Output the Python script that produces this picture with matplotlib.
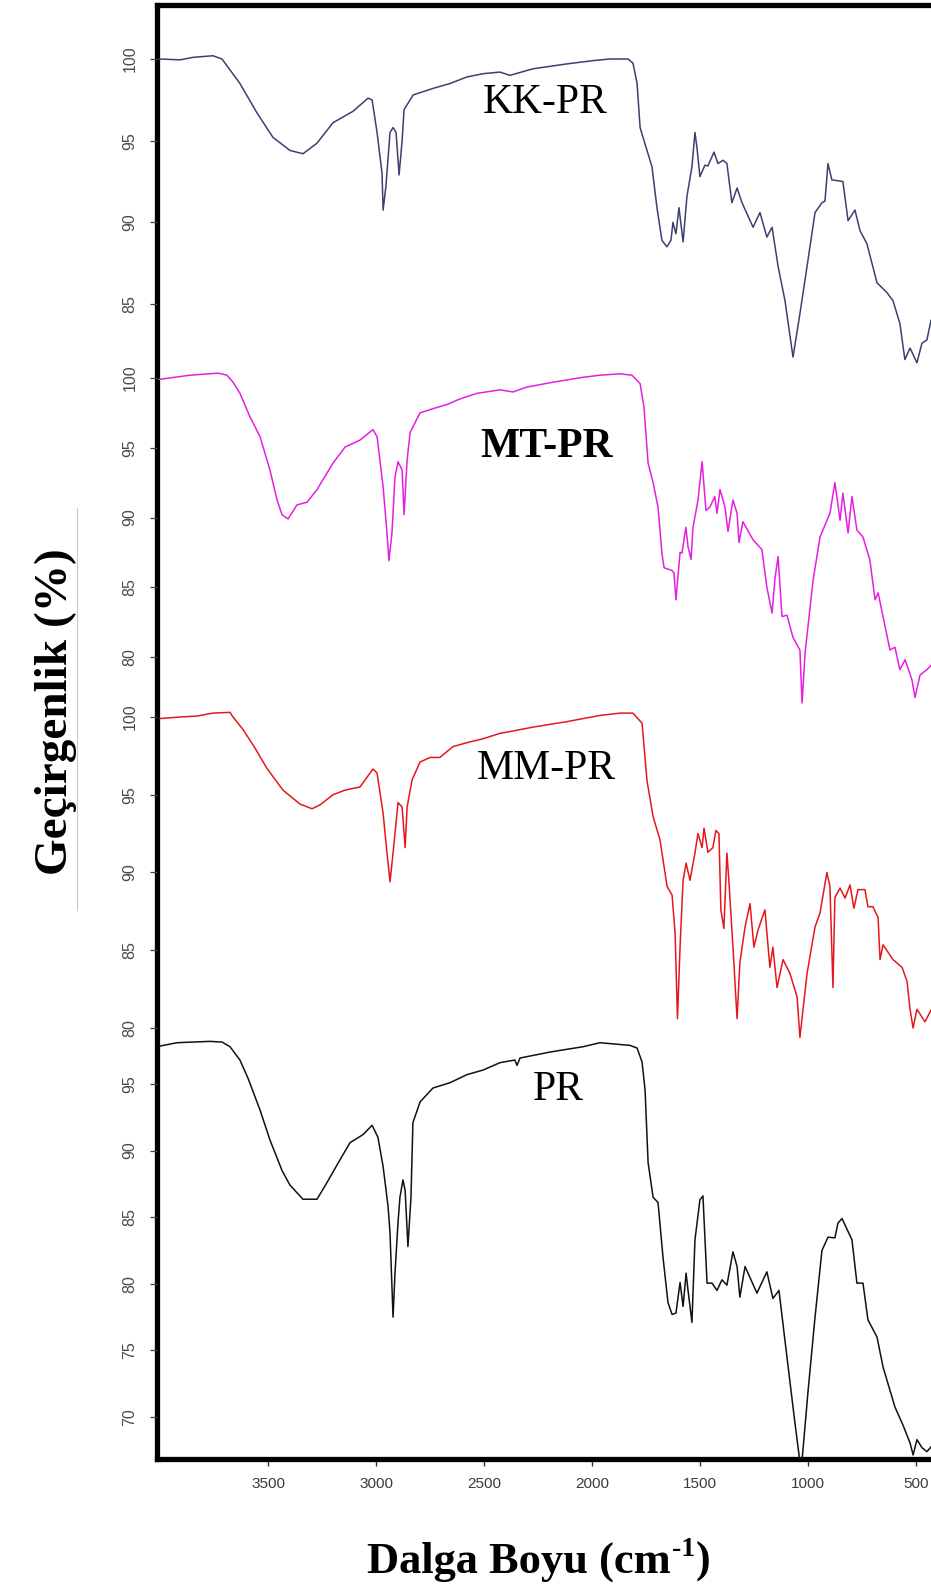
import matplotlib
matplotlib.use("Agg")
import matplotlib.pyplot as plt

W, H = 931, 1591

# FTIR spectra: wavenumber (cm-1) and transmittance (%)
kk_wn = [4005, 3907, 3847, 3755, 3713, 3630, 3551, 3477, 3398, 3338, 3273, 3199, 3106, 3037,
         3018, 2995, 2972, 2967, 2954, 2935, 2921, 2907, 2893, 2879, 2870, 2828, 2736, 2657,
         2579, 2504, 2426, 2380, 2273, 2116, 1995, 1916, 1833, 1810, 1791, 1777, 1745, 1722,
         1699, 1676, 1653, 1634, 1625, 1611, 1597, 1578, 1560, 1537, 1523, 1514, 1500, 1477,
         1463, 1435, 1416, 1393, 1375, 1352, 1328, 1305, 1254, 1222, 1190, 1166, 1138, 1106,
         1069, 1037, 1004, 967, 935, 921, 907, 889, 838, 814, 782, 759, 727, 680, 634, 606,
         574, 551, 527, 495, 472, 449, 430]
kk_t = [100.0, 99.95, 100.1, 100.2, 100.0, 98.5, 96.7, 95.2, 94.4, 94.2, 94.85, 96.1, 96.8, 97.6,
        97.5, 95.5, 93.0, 90.75, 92.2, 95.5, 95.8, 95.5, 92.9, 95.0, 96.9, 97.8, 98.2, 98.5,
        98.9, 99.1, 99.2, 99.0, 99.4, 99.7, 99.9, 100.0, 100.0, 99.75, 98.5, 95.8, 94.4, 93.4,
        90.9, 88.9, 88.5, 88.9, 90.0, 89.3, 90.9, 88.8, 91.6, 93.4, 95.5, 94.6, 92.8, 93.5,
        93.45, 94.3, 93.6, 93.8, 93.6, 91.2, 92.1, 91.2, 89.7, 90.6, 89.1, 89.7, 87.3, 85.2,
        81.75, 84.4, 87.3, 90.6, 91.2, 91.3, 93.6, 92.6, 92.5, 90.1, 90.75, 89.5, 88.7, 86.3, 85.7, 85.2,
        83.8, 81.6, 82.3, 81.4, 82.6, 82.8, 84.0]

mt_wn = [4005, 3861, 3731, 3690, 3662, 3630, 3583, 3537, 3491, 3458, 3435, 3407, 3366, 3319,
         3273, 3199, 3143, 3074, 3014, 2995, 2967, 2949, 2940, 2926, 2912, 2898, 2879, 2870,
         2856, 2842, 2796, 2736, 2671, 2611, 2532, 2426, 2366, 2301, 2180, 2041, 1963, 1870,
         1815, 1777, 1759, 1740, 1717, 1694, 1676, 1666, 1629, 1620, 1611, 1592, 1583, 1565,
         1555, 1541, 1532, 1509, 1490, 1472, 1454, 1431, 1421, 1407, 1384, 1370, 1347, 1328,
         1319, 1301, 1254, 1213, 1190, 1166, 1152, 1138, 1120, 1097, 1069, 1037, 1027, 1013,
         976, 944, 898, 875, 851, 838, 814, 796, 773, 745, 713, 689, 675, 652, 620, 597, 574,
         550, 518, 504, 481, 449, 430]
mt_t = [99.9, 100.2, 100.35, 100.2, 99.7, 98.9, 97.2, 95.8, 93.4, 91.25, 90.2, 89.9, 90.9, 91.1,
        92.0, 93.9, 95.05, 95.55, 96.3, 95.8, 92.2, 88.9, 86.9, 88.9, 92.9, 94.0, 93.4, 90.2,
        94.1, 96.1, 97.5, 97.8, 98.1, 98.5, 98.9, 99.15, 99.0, 99.35, 99.7, 100.05, 100.2, 100.3,
        100.2, 99.6, 97.9, 93.9, 92.5, 90.75, 87.45, 86.4, 86.2, 86.0, 84.1, 87.5, 87.45, 89.3,
        87.9, 87.0, 89.3, 91.25, 94.0, 90.5, 90.75, 91.5, 90.3, 92.0, 90.75, 89.0, 91.25, 90.3,
        88.2, 89.7, 88.4, 87.7, 85.0, 83.15, 85.7, 87.2, 82.9, 83.0, 81.4, 80.5, 76.7, 80.3,
        85.5, 88.6, 90.3, 92.5, 89.8, 91.75, 88.9, 91.5, 89.1, 88.6, 86.95, 84.1, 84.6, 82.9, 80.5, 80.7, 79.1,
        79.8, 78.35, 77.1, 78.7, 79.1, 79.4]

mm_wn = [4000, 3907, 3829, 3755, 3676, 3662, 3616, 3560, 3505, 3431, 3352, 3296, 3259, 3199,
         3143, 3074, 3014, 2995, 2967, 2949, 2935, 2921, 2898, 2879, 2865, 2856, 2833, 2796,
         2750, 2704, 2643, 2565, 2504, 2426, 2366, 2273, 2116, 2041, 1963, 1870, 1810, 1768,
         1745, 1717, 1685, 1652, 1629, 1615, 1604, 1592, 1578, 1564, 1546, 1523, 1509, 1490,
         1481, 1463, 1440, 1426, 1412, 1403, 1389, 1375, 1366, 1347, 1328, 1315, 1291, 1268,
         1250, 1231, 1199, 1176, 1162, 1143, 1115, 1083, 1050, 1037, 1004, 967, 944, 912, 898,
         884, 875, 851, 828, 805, 787, 768, 736, 722, 699, 675, 666, 652, 606, 564, 541, 527,
         513, 495, 481, 458, 430]
mm_t = [99.9, 100.0, 100.06, 100.25, 100.3, 100.0, 99.2, 98.0, 96.7, 95.3, 94.4, 94.1, 94.35, 95.0,
        95.3, 95.5, 96.65, 96.4, 93.8, 91.25, 89.4, 91.25, 94.5, 94.2, 91.6, 94.2, 95.95, 97.1,
        97.4, 97.4, 98.1, 98.4, 98.6, 98.95, 99.1, 99.35, 99.7, 99.9, 100.1, 100.25, 100.25, 99.6,
        95.9, 93.6, 92.1, 89.1, 88.55, 86.1, 80.6, 85.2, 89.5, 90.6, 89.5, 91.25, 92.5, 91.6,
        92.85, 91.3, 91.6, 92.7, 92.5, 87.6, 86.4, 91.25, 89.5, 85.2, 80.6, 84.2, 86.5, 88.0,
        85.2, 86.3, 87.6, 83.9, 85.2, 82.6, 84.4, 83.5, 82.0, 79.4, 83.5, 86.5, 87.4, 90.0, 89.1,
        82.6, 88.4, 89.0, 88.35, 89.2, 87.7, 88.9, 88.9, 87.8, 87.8, 87.1, 84.4, 85.35, 84.4, 83.9, 83.0, 81.2,
        80.0, 81.2, 80.9, 80.4, 81.15]

pr_wn = [4000, 3921, 3847, 3769, 3713, 3676, 3630, 3593, 3537, 3491, 3435, 3398, 3338, 3273,
         3227, 3167, 3120, 3060, 3018, 2991, 2967, 2944, 2935, 2921, 2912, 2898, 2889, 2875,
         2865, 2852, 2838, 2829, 2796, 2736, 2657, 2579, 2504, 2426, 2357, 2347, 2333, 2194,
         2041, 1963, 1824, 1791, 1768, 1754, 1740, 1717, 1694, 1671, 1648, 1629, 1611, 1592,
         1578, 1564, 1555, 1537, 1523, 1500, 1486, 1467, 1444, 1421, 1398, 1375, 1347, 1328,
         1315, 1291, 1236, 1190, 1162, 1134, 1097, 1060, 1032, 1023, 999, 967, 935, 907, 875,
         861, 842, 796, 773, 745, 722, 680, 652, 597, 560, 527, 513, 495, 472, 449, 430]
pr_t = [97.85, 98.1, 98.15, 98.2, 98.15, 97.8, 96.8, 95.45, 93.05, 90.8, 88.5, 87.4, 86.35, 86.35,
        87.6, 89.3, 90.6, 91.2, 91.9, 91.0, 88.8, 85.8, 83.8, 77.5, 80.8, 84.6, 86.5, 87.8,
        87.0, 82.8, 86.5, 92.1, 93.65, 94.7, 95.1, 95.7, 96.05, 96.6, 96.8, 96.4, 96.95, 97.4,
        97.8, 98.1, 97.9, 97.7, 96.65, 94.55, 89.1, 86.5, 86.1, 82.0, 78.6, 77.7, 77.8, 80.1,
        78.3, 80.8, 79.5, 77.1, 83.3, 86.3, 86.6, 80.05, 80.05, 79.5, 80.3, 79.9, 82.4, 81.3,
        79.0, 81.3, 79.3, 80.9, 78.9, 79.5, 74.5, 69.55, 66.0, 67.5, 72.0, 77.5, 82.5, 83.5, 83.45,
        84.55, 84.9, 83.3, 80.05, 80.05, 77.3, 76.0, 73.75, 70.75, 69.4, 68.05, 67.15, 68.3, 67.7, 67.4, 67.75]

kk_ticks = [100, 95, 90, 85]
mt_ticks = [100, 95, 90, 85, 80]
mm_ticks = [100, 95, 90, 85, 80]
pr_ticks = [95, 90, 85, 80, 75, 70]
x_ticks = [3500, 3000, 2500, 2000, 1500, 1000, 500]

# each spectrum: data, colour, name, and the pixel rows of its first/last y tick
spectra = [
    (kk_wn, kk_t, kk_ticks, "#3d3f72", "KK-PR", "normal", (59, 304), (483, 113)),
    (mt_wn, mt_t, mt_ticks, "#e51fe0", "MT-PR", "bold", (378, 657), (480, 457)),
    (mm_wn, mm_t, mm_ticks, "#e5171c", "MM-PR", "normal", (717, 1028), (477, 779)),
    (pr_wn, pr_t, pr_ticks, "#111111", "PR", "normal", (1084, 1417), (533, 1100)),
]

X0, X1 = 157, W          # frame left / right (px)
Y0, Y1 = 5, 1459         # frame top / bottom (px)
WN_LEFT, WN_RIGHT = 4014, 430


def fx(x):
    return x / W


def fy(y):
    return 1 - y / H


fig = plt.figure(figsize=(W / 100, H / 100), dpi=100)
rect = [fx(X0), fy(Y1), fx(X1) - fx(X0), fy(Y0) - fy(Y1)]

frame = fig.add_axes(rect)
frame.set_xlim(WN_LEFT, WN_RIGHT)
frame.set_ylim(0, 1)
frame.set_yticks([])
frame.set_xticks(x_ticks)
frame.set_xticklabels([str(t) for t in x_ticks])
frame.tick_params(axis="x", direction="out", length=5, width=1.0, color="#333333",
                  labelsize=11, labelcolor="#3a3a3a", pad=8)
for lab in frame.get_xticklabels():
    lab.set_family("Liberation Sans")
for side in ["left", "top", "bottom"]:
    frame.spines[side].set_linewidth(3.8)
    frame.spines[side].set_zorder(5)
frame.spines["right"].set_visible(False)

for wn, t, ticks, color, name, weight, (ya, yb), (lx, ly) in spectra:
    ax = fig.add_axes(rect)
    ax.patch.set_visible(False)
    for s in ax.spines.values():
        s.set_visible(False)
    scale = (yb - ya) / (ticks[0] - ticks[-1])   # px per % unit
    ax.set_ylim(ticks[0] - (Y1 - ya) / scale, ticks[0] + (ya - Y0) / scale)
    ax.set_xlim(WN_LEFT, WN_RIGHT)
    ax.set_xticks([])
    ax.set_yticks(ticks)
    ax.set_yticklabels([str(v) for v in ticks], rotation=90, va="center",
                       family="Liberation Sans")
    ax.tick_params(axis="y", direction="out", length=5, width=0.9, color="#444444",
                   labelsize=11.5, labelcolor="#4a4a4a", pad=9)
    ax.plot(wn, t, color=color, lw=1.1)
    fig.text(fx(lx), fy(ly), name, family="Liberation Serif", fontsize=30,
             fontweight=weight, va="baseline", ha="left")

# axis titles
fig.text(fx(56), fy(712), "Geçirgenlik (%)", family="Liberation Serif", fontsize=34,
         fontweight="bold", rotation=90, ha="center", va="center")
fig.add_artist(plt.Line2D([fx(77), fx(77)], [fy(508), fy(910)], color="#c5cad6", lw=0.8))

renderer = fig.canvas.get_renderer()
t1 = fig.text(fx(367), fy(1573), "Dalga Boyu (cm", family="Liberation Serif",
              fontsize=32, fontweight="bold", va="baseline", ha="left")
bb = t1.get_window_extent(renderer)
t2 = fig.text((bb.x1 + 1) / W, fy(1573 - 17), "-1", family="Liberation Serif",
              fontsize=20, fontweight="bold", va="baseline", ha="left")
bb2 = t2.get_window_extent(renderer)
fig.text((bb2.x1 + 1) / W, fy(1573), ")", family="Liberation Serif",
         fontsize=32, fontweight="bold", va="baseline", ha="left")

fig.savefig("out.png", dpi=100, facecolor="white")
